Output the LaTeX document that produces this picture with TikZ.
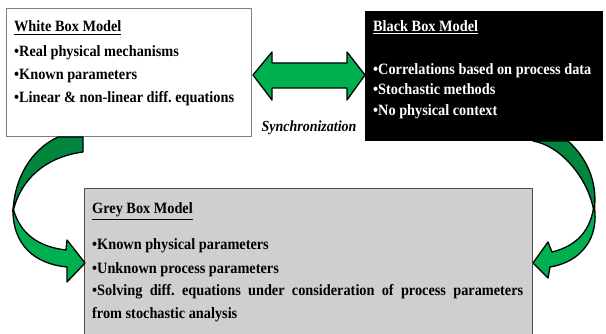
\documentclass[tikz,border=0pt]{standalone}
\usepackage{fontspec}
\usepackage{graphicx}
\setmainfont{Liberation Serif}
\usetikzlibrary{calc}
\definecolor{arrowgreen}{HTML}{00B050}
\definecolor{arrowdark}{HTML}{00873D}
\definecolor{greyfill}{HTML}{D0CECE}
\definecolor{frame}{HTML}{7F7F7F}
% slightly tall lettering
\newcommand{\tallt}[1]{\scalebox{1}[1.1]{#1}}
\tikzset{
  panel/.style={rectangle, anchor=north west, inner sep=0pt, outer sep=0pt},
  boxtext/.style={anchor=base west, inner sep=0pt, font=\fontsize{14.3}{14.3}\selectfont\bfseries},
  ribbon/.style={draw=black, line width=1.3pt, line join=round},
}
\frenchspacing
\begin{document}
\begin{tikzpicture}[x=1pt,y=-1pt]
\useasboundingbox (0,0) rectangle (606,334);

% model boxes
\node[panel, fill=white, draw=frame, line width=1pt, minimum width=245pt, minimum height=128pt] (wb) at (6,9) {};
\node[panel, fill=black, minimum width=238pt, minimum height=130pt] (bb) at (365,11) {};
\node[panel, fill=greyfill, draw=black!70, line width=1pt, minimum width=448pt, minimum height=150pt] (gb) at (84,189) {};

% white box text
\node[boxtext] (wt) at (14,32) {\tallt{\underline{White Box Model}}};
\node[boxtext] (w1) at (14,57) {\tallt{•Real physical mechanisms}};
\node[boxtext] (w2) at (14,80) {\tallt{•Known parameters}};
\node[boxtext] (w3) at (14,103) {\tallt{•Linear \& non-linear diff. equations}};

% black box text
\node[boxtext, text=white] (bt) at (373,32) {\tallt{\underline{Black Box Model}}};
\node[boxtext, text=white] (b1) at (373,75) {\tallt{•Correlations based on process data}};
\node[boxtext, text=white] (b2) at (373,95) {\tallt{•Stochastic methods}};
\node[boxtext, text=white] (b3) at (373,116) {\tallt{•No physical context}};

% grey box text
\node[boxtext] (gt) at (92,214) {\tallt{\underline{Grey Box Model}}};
\node[boxtext] (g1) at (92,250) {\tallt{•Known physical parameters}};
\node[boxtext] (g2) at (92,273) {\tallt{•Unknown process parameters}};
\node[boxtext] (g3) at (92,296)
  {\tallt{\parbox[t]{431pt}{\fontsize{14.3}{20.5}\selectfont\bfseries\hyphenpenalty=10000
   •Solving diff. equations under consideration of process parameters\linebreak from stochastic analysis}}};

% synchronization double arrow
\draw[ribbon, fill=arrowgreen] ($(wb.east)+(2,2)$) coordinate (lt)
  -- ++(19,-23) -- ++(0,11) -- ++(75,0) -- ++(0,-11)
  -- ($(bb.west)+(0,-1)$) coordinate (rt)
  -- ++(-18,25) -- ++(0,-12) -- ++(-75,0) -- ++(0,12) -- cycle;
\node[anchor=base, inner sep=0pt, font=\fontsize{14}{14}\selectfont\bfseries\itshape] (sync) at (309,132) {\tallt{Synchronization}};

% white box to grey box (twisted ribbon arrow)
\draw[ribbon, fill=arrowdark] (58,137) .. controls (30,150) and (14,180) .. (13,212)
  .. controls (20,180) and (45,157) .. (83,152) -- (83,137) -- cycle;
\draw[ribbon, fill=arrowgreen] (13,208) .. controls (20,235) and (40,247) .. (66,250)
  -- (67,240) -- ($(gb.west)+(1,-1)$) -- (67,282) -- (67,267)
  .. controls (35,264) and (12,245) .. (13,208);

% black box to grey box (twisted ribbon arrow)
\draw[ribbon, fill=arrowdark] (533,141) -- (568,141) .. controls (589,160) and (598,185) .. (594,212)
  .. controls (589,180) and (562,146) .. (533,141) -- cycle;
\draw[ribbon, fill=arrowgreen] (594,205) .. controls (591,230) and (577,246) .. (552,252)
  -- (548,242) -- ($(gb.east)+(1,-1)$) -- (548,278) -- (550,267)
  .. controls (581,262) and (600,238) .. (594,205);
\end{tikzpicture}
\end{document}
